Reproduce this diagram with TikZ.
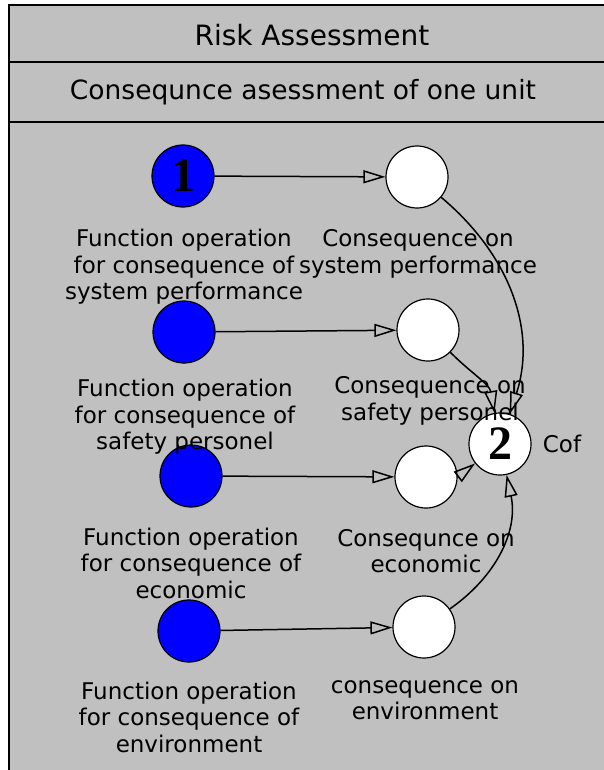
\documentclass[tikz,border=0pt]{standalone}
\usepackage{fontspec}
\setmainfont{DejaVu Sans}
\newfontfamily\numfont{Liberation Serif}
\usetikzlibrary{arrows.meta}
\definecolor{panelgray}{RGB}{192,192,192}
\begin{document}
\begin{tikzpicture}[x=1pt,y=1pt]
\tikzstyle{every node}+=[inner sep=0pt]
\tikzstyle{func}=[circle,draw,fill=blue,minimum size=62pt,line width=1.2pt]
\tikzstyle{cons}=[circle,draw,fill=white,minimum size=62pt,line width=1.2pt]
\tikzstyle{lbl}=[align=center,font=\fontsize{23}{26.5}\selectfont]
\tikzstyle{num}=[font=\numfont\bfseries\fontsize{48}{48}\selectfont]
\tikzstyle{link}=[line width=1.5pt,-{Triangle[open,length=22pt,width=13pt]}]
\useasboundingbox (0,0) rectangle (603,-770);
\fill [panelgray] (9,-5) rectangle (640,-800);
\draw [line width=2.5pt] (9,-800) -- (9,-5) -- (640,-5);
\draw [line width=2pt] (9,-62) -- (640,-62);
\draw [line width=2pt] (9,-122) -- (640,-122);
\node (title) at (312,-35) {\fontsize{28}{30}\selectfont Risk Assessment};
\node (sub) at (303,-92) {\fontsize{26.5}{28}\selectfont Consequnce asessment of one unit};
%\node[draw] at (0,0) {grid};
\node [func,num] (f1) at (183,-176) {1};
\node [cons] (c1) at (417,-177) {};
\node [func] (f2) at (184,-332) {};
\node [cons] (c2) at (428,-330) {};
\node [func] (f3) at (191,-476) {};
\node [cons] (c3) at (426,-477) {};
\node [func] (f4) at (189,-631) {};
\node [cons] (c4) at (424,-627) {};
\node [cons,num] (cof) at (500,-444) {2};
\node [lbl] (cofl) at (562,-444) {Cof};
\node [lbl] (f1l) at (184,-267) {Function operation\\for consequence of\\system performance};
\node [lbl] (c1l) at (418,-254) {Consequence on\\system performance};
\node [lbl] (f2l) at (185,-417) {Function operation\\for consequence of\\safety personel};
\node [lbl] (c2l) at (430,-401) {Consequence on\\safety personel};
\node [lbl] (f3l) at (191,-563) {Function operation\\for consequence of\\economic};
\node [lbl] (c3l) at (426,-551) {Consequnce on\\economic};
\node [lbl] (f4l) at (189,-717) {Function operation\\for consequence of\\environment};
\node [lbl] (c4l) at (425,-700) {consequence on\\environment};
\draw [link] (f1) -- (c1);
\draw [link] (f2) -- (c2);
\draw [link] (f3) -- (c3);
\draw [link] (f4) -- (c4);
\draw [link] (c1) to[out=-40,in=72] (cof);
\draw [link] (c2) to[out=-45,in=100] (cof);
\draw [link] (c3.east) -- (cof);
\draw [link] (c4) to[out=35,in=-78] (cof);
\end{tikzpicture}
\end{document}
